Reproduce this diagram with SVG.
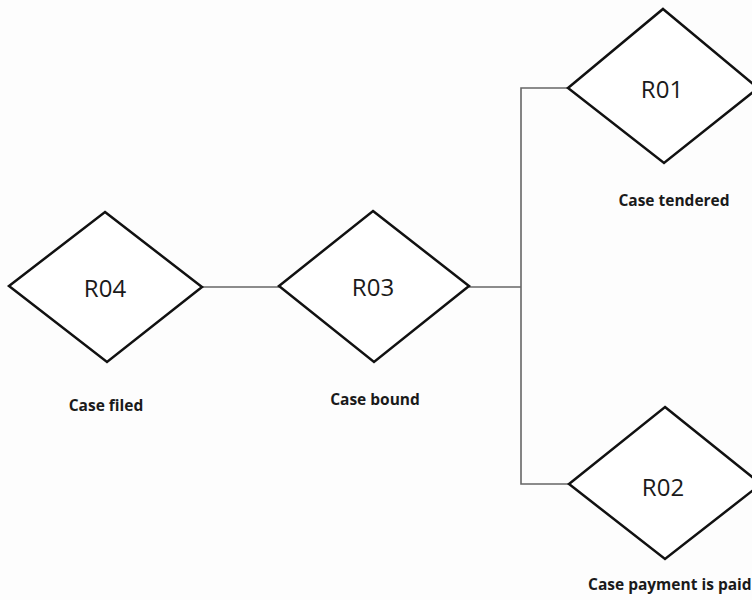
<svg xmlns="http://www.w3.org/2000/svg" width="752" height="600" viewBox="0 0 752 600">
<style>
.d{fill:#fff;stroke:#111;stroke-width:2.5;stroke-linejoin:miter}
.c{fill:none;stroke:#666;stroke-width:1.6}
.t{font-family:"Open Sans","Liberation Sans",sans-serif;font-size:24px;fill:#1a1a1a;text-anchor:middle}
.l{font-family:"Open Sans","Liberation Sans",sans-serif;font-size:15.5px;font-weight:bold;fill:#1a1a1a;text-anchor:middle}
</style>
<rect width="752" height="600" fill="#fdfdfd"/>
<g id="connectors">
<line class="c" x1="202" y1="287" x2="279" y2="287"/>
<line class="c" x1="469" y1="287" x2="521" y2="287"/>
<polyline class="c" points="568,88 521,88 521,484 569,484"/>
</g>
<g id="R04">
<polygon class="d" points="105,212 202,287 107,362 9,286"/>
<text class="t" x="105" y="297">R04</text>
<text class="l" x="106" y="411">Case filed</text>
</g>
<g id="R03">
<polygon class="d" points="373,211 469,286 374,362 279,286"/>
<text class="t" x="373" y="296">R03</text>
<text class="l" x="375" y="405">Case bound</text>
</g>
<g id="R01">
<polygon class="d" points="663,9 758,88 664,163 568,88"/>
<text class="t" x="662" y="98">R01</text>
<text class="l" x="674" y="206">Case tendered</text>
</g>
<g id="R02">
<polygon class="d" points="665,407 761,484 665,559 569,484"/>
<text class="t" x="663" y="496">R02</text>
<text class="l" x="588" y="590" style="text-anchor:start">Case payment is paid</text>
</g>
</svg>
